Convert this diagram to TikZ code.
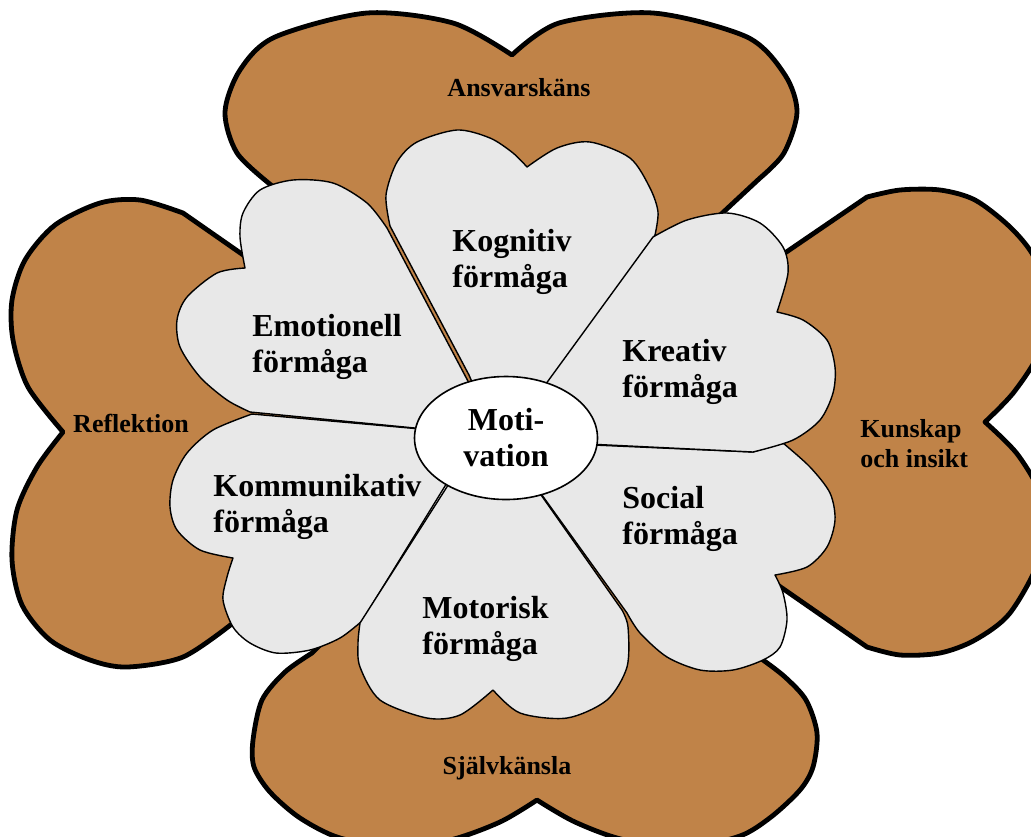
\documentclass[tikz,border=0pt]{standalone}
\usepackage{fontspec}
\setmainfont{Liberation Serif}
\usetikzlibrary{shapes.geometric}

\definecolor{brun}{RGB}{192,131,72}
\definecolor{bladgra}{RGB}{232,232,232}

\tikzset{
  hjarta/.style={draw=black, line width=2.4pt, fill=brun, line join=round},
  blad/.style={draw=black, line width=0.7pt, fill=bladgra, line join=round},
  yttertext/.style={font=\bfseries\fontsize{13}{15}\selectfont, inner sep=0},
  bladtext/.style={font=\bfseries\fontsize{16}{18}\selectfont, align=left, anchor=base west, inner sep=0}
}

\begin{document}
\begin{tikzpicture}[x=0.5pt, y=-0.5pt]
\clip (0,0) rectangle (1031,836);

% yttre hjärtan
\filldraw[hjarta] (500,420) -- plot[smooth] coordinates {(271,185) (237,153) (225,112) (240,70) (275,37) (367,13) (453,23) (512,55)}
  -- plot[smooth] coordinates {(512,55) (559,23) (653,13) (747,37) (785,75) (797,112) (784,153) (760,178)} -- cycle;
\filldraw[hjarta] (480,420) -- plot[smooth] coordinates {(183,213) (140,200) (100,203) (55,225) (25,260) (12,300) (13,340) (28,387) (63,432)}
  -- plot[smooth] coordinates {(63,432) (37,467) (17,510) (12,560) (22,605) (50,640) (90,660) (127,667) (183,657) (233,623)} -- cycle;
\filldraw[hjarta] (540,420) -- plot[smooth] coordinates {(867,197) (900,190) (940,190) (975,200) (1010,227) (1034,257) (1046,300) (1040,350) (1014,392) (985,422)}
  -- plot[smooth] coordinates {(985,422) (1018,455) (1042,500) (1040,557) (1010,613) (975,640) (940,653) (900,655) (867,647)} -- cycle;
\filldraw[hjarta] (505,460) -- plot[smooth] coordinates {(312,653) (285,672) (262,700) (253,740) (254,767) (270,792) (300,818) (340,838) (395,846) (450,840) (500,822) (537,800)}
  -- plot[smooth] coordinates {(537,800) (575,822) (625,840) (690,846) (740,836) (771,817) (800,790) (813,767) (817,733) (806,700) (785,677) (763,660)} -- cycle;

\node[yttertext] (ansv) at (519,88) {Ansvarskäns};
\node[yttertext] (refl) at (131,423) {Reflektion};
\node[yttertext, align=left, anchor=base west] (kunsk) at (860,467) {Kunskap\\och insikt};
\node[yttertext] (sjalv) at (507,768) {Självkänsla};

% inre blad
\filldraw[blad] (477,434) -- plot[smooth] coordinates {(252,414) (213,430) (187,453) (173,480) (170,507) (177,530) (200,550) (233,558)}
  -- plot[smooth] coordinates {(233,558) (227,577) (223,600) (233,627) (250,643) (276,653) (310,650) (340,638) (362,621)} -- cycle;
\filldraw[blad] (497,436) -- plot[smooth] coordinates {(387,228) (367,203) (333,183) (293,180) (260,190) (243,213) (240,237) (245,268)}
  -- plot[smooth] coordinates {(245,268) (217,273) (187,297) (177,320) (180,347) (200,377) (227,400) (250,412)} -- cycle;
\filldraw[blad] (495,436) -- (469,375) -- plot[smooth] coordinates {(390,226) (386,195) (397,162) (417,142) (457,130) (490,138) (513,153) (527,167)}
  -- plot[smooth] coordinates {(527,167) (557,148) (590,142) (630,158) (650,188) (658,212) (655,235)} -- (560,380) -- cycle;
\filldraw[blad] (503,441) -- (753,452) -- plot[smooth] coordinates {(783,443) (810,467) (830,493) (835,520) (827,547) (807,567) (775,575)}
  -- plot[smooth] coordinates {(775,575) (783,593) (787,620) (780,647) (763,660) (733,670) (700,670) (667,657) (640,633) (627,613)} -- cycle;
\filldraw[blad] (505,440) -- plot[smooth] coordinates {(653,237) (687,220) (727,213) (760,223) (783,247) (788,273) (777,312)}
  -- plot[smooth] coordinates {(777,312) (803,320) (827,340) (835,367) (833,393) (820,420) (793,440) (753,452)} -- cycle;
\filldraw[blad] (489,421) -- plot[smooth] coordinates {(360,623) (358,643) (360,667) (380,700) (427,718) (460,715) (493,690)}
  -- plot[smooth] coordinates {(493,690) (520,713) (567,718) (607,700) (627,667) (628,627) (622,610)} -- cycle;

\node[bladtext] (emo) at (252,372) {Emotionell\\förmåga};
\node[bladtext] (kog) at (452,287) {Kognitiv\\förmåga};
\node[bladtext] (kre) at (622,397) {Kreativ\\förmåga};
\node[bladtext] (soc) at (622,544) {Social\\förmåga};
\node[bladtext] (mot) at (422,654) {Motorisk\\förmåga};
\node[bladtext] (kom) at (213,532) {Kommunikativ\\förmåga};

% mitten
\node[ellipse, draw, line width=0.8pt, fill=white, minimum width=91.5pt, minimum height=61.5pt, inner sep=0,
  align=center, font=\bfseries\fontsize{16}{18}\selectfont] (motiv) at (506,438) {Moti-\\vation};
\end{tikzpicture}
\end{document}
